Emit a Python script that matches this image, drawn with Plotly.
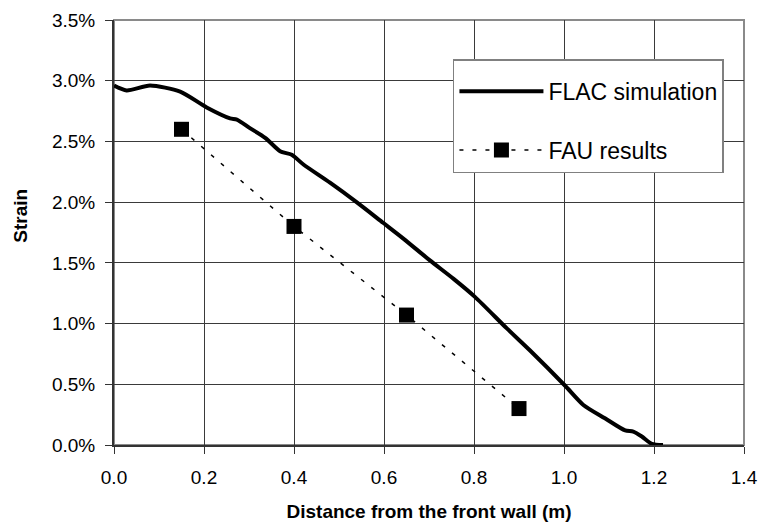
import plotly.graph_objects as go

# FLAC simulation curve (distance m, strain %)
flac_x = [0.0, 0.028, 0.08, 0.147, 0.206, 0.258, 0.273, 0.302, 0.336, 0.369, 0.395,
          0.421, 0.48, 0.539, 0.598, 0.643, 0.702, 0.754, 0.802, 0.873, 0.924,
          1.002, 1.043, 1.091, 1.136, 1.154, 1.173, 1.195, 1.22]
flac_pct = [2.96, 2.92, 2.96, 2.91, 2.78, 2.69, 2.68, 2.61, 2.53, 2.42, 2.39,
            2.31, 2.16, 2.00, 1.83, 1.70, 1.52, 1.37, 1.22, 0.96, 0.78,
            0.49, 0.33, 0.22, 0.12, 0.11, 0.07, 0.01, 0.0]

# FAU results
fau_x = [0.15, 0.40, 0.65, 0.90]
fau_pct = [2.60, 1.80, 1.07, 0.30]

x_ticks = [0.0, 0.2, 0.4, 0.6, 0.8, 1.0, 1.2, 1.4]
y_ticks_pct = [0.0, 0.5, 1.0, 1.5, 2.0, 2.5, 3.0, 3.5]

FONT = "Liberation Sans, Arial, sans-serif"

fig = go.Figure()
fig.add_trace(go.Scatter(
    x=flac_x, y=[v / 100 for v in flac_pct], mode="lines",
    name="FLAC simulation", legendgroup="a",
    line=dict(color="black", width=4, shape="spline", smoothing=0.7),
))
fig.add_trace(go.Scatter(
    x=fau_x, y=[v / 100 for v in fau_pct], mode="lines+markers",
    name="FAU results", legendgroup="b",
    line=dict(color="black", width=1.5, dash="4px,9px"),
    marker=dict(symbol="square", size=15, color="black"),
))

fig.add_shape(type="rect", xref="paper", yref="paper", x0=0, x1=1, y0=0, y1=1,
              line=dict(color="#8a8a8a", width=2), layer="below")

fig.update_layout(
    width=761, height=525,
    margin=dict(l=114, r=17, t=20, b=80, autoexpand=False),
    paper_bgcolor="white", plot_bgcolor="white",
    font=dict(family=FONT, color="black", size=19),
    showlegend=True,
    legend=dict(
        x=0.538, y=0.908, xanchor="left", yanchor="top",
        bgcolor="white", bordercolor="#808080", borderwidth=1.5,
        font=dict(size=23, family=FONT), traceorder="grouped",
        tracegroupgap=26, itemwidth=84,
        title=dict(text="&nbsp;", font=dict(size=7)),
    ),
    annotations=[dict(
        text="<b>Strain</b>", xref="paper", yref="paper",
        x=-0.149, y=0.54, textangle=-90, showarrow=False,
        font=dict(size=19, family=FONT), xanchor="center", yanchor="middle",
    )],
)
fig.update_xaxes(
    range=[0, 1.4], tickvals=x_ticks, tickformat=".1f", automargin=False,
    showgrid=True, gridcolor="#3a3a3a", gridwidth=1,
    showline=True, linecolor="#333333", linewidth=2,
    ticks="outside", ticklen=7, tickcolor="#333333", tickwidth=1,
    zeroline=False, ticklabelstandoff=7,
    title=dict(text="<b>Distance from the front wall (m)</b>",
               font=dict(size=19, family=FONT), standoff=18),
)
fig.update_yaxes(
    range=[0, 0.035], tickvals=[v / 100 for v in y_ticks_pct], tickformat=".1%",
    automargin=False,
    showgrid=True, gridcolor="#3a3a3a", gridwidth=1,
    showline=True, linecolor="#333333", linewidth=2,
    ticks="outside", ticklen=7, tickcolor="#333333", tickwidth=1,
    zeroline=False, ticklabelstandoff=6,
)

fig.write_html("out.html")
